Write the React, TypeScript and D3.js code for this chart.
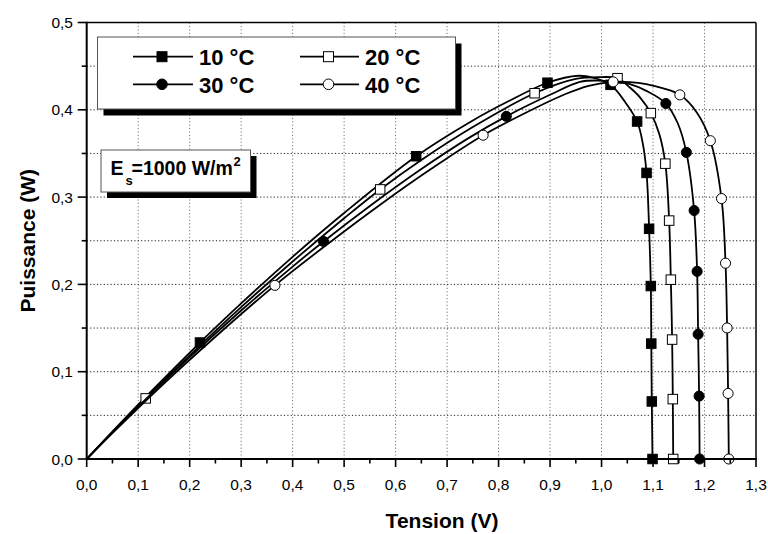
import React from 'react';
import * as d3 from 'd3';

// ---------- data ----------
const xTickValues = [0, 0.1, 0.2, 0.3, 0.4, 0.5, 0.6, 0.7, 0.8, 0.9, 1.0, 1.1, 1.2, 1.3];
const xTickLabels = ['0,0', '0,1', '0,2', '0,3', '0,4', '0,5', '0,6', '0,7', '0,8', '0,9', '1,0', '1,1', '1,2', '1,3'];
const yTickValues = [0, 0.1, 0.2, 0.3, 0.4, 0.5];
const yTickLabels = ['0,0', '0,1', '0,2', '0,3', '0,4', '0,5'];
const xMinorValues = [0.05, 0.15, 0.25, 0.35, 0.45, 0.55, 0.65, 0.75, 0.85, 0.95, 1.05, 1.15, 1.25];
const yMinorValues = [0.05, 0.15, 0.25, 0.35, 0.45];
const xGridValues = [0.1, 0.2, 0.3, 0.4, 0.5, 0.6, 0.7, 0.8, 0.9, 1.0, 1.1, 1.2];
const yGridValues = [0.05, 0.1, 0.15, 0.2, 0.25, 0.3, 0.35, 0.4, 0.45];

// 10 °C curve
const v10 = [0, 0.05, 0.1146, 0.22, 0.3, 0.4, 0.5, 0.64, 0.75, 0.82, 0.895, 0.955, 0.985, 1.0175, 1.045, 1.0691, 1.08, 1.0874, 1.0924, 1.0957, 1.0966, 1.0976, 1.099];
const p10 = [0, 0.0314, 0.0711, 0.1334, 0.1782, 0.2316, 0.2818, 0.3468, 0.3878, 0.41, 0.431, 0.439, 0.4365, 0.4286, 0.4096, 0.3866, 0.3618, 0.3277, 0.2637, 0.1981, 0.1322, 0.0659, 0];
const mv10 = [0.22, 0.64, 0.895, 1.0175, 1.0691, 1.0874, 1.0924, 1.0957, 1.0966, 1.0976, 1.099];
const mp10 = [0.1334, 0.3468, 0.431, 0.4286, 0.3866, 0.3277, 0.2637, 0.1981, 0.1322, 0.0659, 0];

// 20 °C curve
const v20 = [0, 0.05, 0.1146, 0.2, 0.3, 0.4, 0.5, 0.57, 0.65, 0.75, 0.87, 0.95, 1.0, 1.031, 1.055, 1.075, 1.0957, 1.112, 1.1239, 1.1313, 1.1346, 1.1371, 1.1384, 1.1392];
const p20 = [0, 0.0309, 0.0694, 0.1187, 0.1739, 0.2262, 0.2758, 0.3088, 0.3426, 0.3803, 0.419, 0.4355, 0.4375, 0.4362, 0.4255, 0.414, 0.3962, 0.3725, 0.3383, 0.2731, 0.2054, 0.1368, 0.0686, 0];
const mv20 = [0.1146, 0.57, 0.87, 1.031, 1.0957, 1.1239, 1.1313, 1.1346, 1.1371, 1.1384, 1.1392];
const mp20 = [0.0694, 0.3088, 0.419, 0.4362, 0.3962, 0.3383, 0.2731, 0.2054, 0.1368, 0.0686, 0];

// 30 °C curve
const v30 = [0, 0.05, 0.1, 0.2, 0.3, 0.4, 0.46, 0.55, 0.65, 0.74, 0.815, 0.9, 0.958, 0.995, 1.025, 1.055, 1.087, 1.1249, 1.148, 1.1647, 1.1798, 1.1856, 1.1876, 1.1895, 1.1905];
const p30 = [0, 0.0304, 0.0599, 0.1166, 0.1701, 0.2204, 0.2492, 0.2899, 0.3322, 0.367, 0.3925, 0.4172, 0.432, 0.4335, 0.432, 0.4294, 0.4217, 0.4072, 0.3846, 0.3512, 0.2846, 0.2149, 0.1429, 0.072, 0];
const mv30 = [0.46, 0.815, 1.1249, 1.1647, 1.1798, 1.1856, 1.1876, 1.1895, 1.1905];
const mp30 = [0.2492, 0.3925, 0.4072, 0.3512, 0.2846, 0.2149, 0.1429, 0.072, 0];

// 40 °C curve
const v40 = [0, 0.05, 0.15, 0.25, 0.3656, 0.47, 0.57, 0.67, 0.77, 0.85, 0.93, 0.975, 1.0225, 1.055, 1.087, 1.12, 1.1521, 1.185, 1.2113, 1.233, 1.2408, 1.2439, 1.2458, 1.2472];
const p40 = [0, 0.0296, 0.0864, 0.14, 0.1989, 0.2472, 0.2913, 0.3327, 0.3709, 0.3958, 0.4181, 0.4275, 0.432, 0.4318, 0.4294, 0.4245, 0.4171, 0.397, 0.3646, 0.2983, 0.2243, 0.1501, 0.0751, 0];
const mv40 = [0.3656, 0.77, 1.0225, 1.1521, 1.2113, 1.233, 1.2408, 1.2439, 1.2458, 1.2472];
const mp40 = [0.1989, 0.3709, 0.432, 0.4171, 0.3646, 0.2983, 0.2243, 0.1501, 0.0751, 0];

const seriesNames = ['10 °C', '20 °C', '30 °C', '40 °C'];
const seriesShapes = ['square', 'square', 'circle', 'circle'];
const seriesFills = ['#000', '#fff', '#000', '#fff'];

// ---------- layout ----------
const W = 768;
const H = 534;
const X0 = 86.7;
const X1 = 756;
const Y0 = 459;
const Y1 = 22.5;
const FONT = '"Liberation Sans", Arial, Helvetica, sans-serif';

const x = d3.scaleLinear().domain([0, 1.3]).range([X0, X1]);
const y = d3.scaleLinear().domain([0, 0.5]).range([Y0, Y1]);

const line = d3
  .line<[number, number]>()
  .x((d) => x(d[0]))
  .y((d) => y(d[1]))
  .curve(d3.curveCatmullRom.alpha(0.5));

function Marker({ cx, cy, shape, fill, size = 9.5 }: { cx: number; cy: number; shape: string; fill: string; size?: number }) {
  if (shape === 'square') {
    return <rect x={cx - size / 2} y={cy - size / 2} width={size} height={size} fill={fill} stroke="#000" strokeWidth={1} />;
  }
  return <circle cx={cx} cy={cy} r={size / 2 + 0.3} fill={fill} stroke="#000" strokeWidth={1} />;
}

export default function App() {
  const curves = [
    { v: v10, p: p10, mv: mv10, mp: mp10 },
    { v: v20, p: p20, mv: mv20, mp: mp20 },
    { v: v30, p: p30, mv: mv30, mp: mp30 },
    { v: v40, p: p40, mv: mv40, mp: mp40 },
  ];

  const legendPos = [
    { lx0: 133, lx1: 193, mx: 162, tx: 199, cy: 56.7, ty: 65 },
    { lx0: 300, lx1: 359, mx: 328.5, tx: 365, cy: 56.7, ty: 65 },
    { lx0: 133, lx1: 193, mx: 162, tx: 199, cy: 84.3, ty: 92.7 },
    { lx0: 300, lx1: 359, mx: 328.5, tx: 365, cy: 84.3, ty: 92.7 },
  ];

  return (
    <svg width={W} height={H} style={{ position: 'absolute', left: 0, top: 0, background: '#fff' }} fontFamily={FONT}>
      <rect x={0} y={0} width={W} height={H} fill="#fff" />

      {/* grid */}
      {xGridValues.map((v, i) => (
        <line key={'gx' + i} x1={x(v)} x2={x(v)} y1={Y0} y2={Y1} stroke="#777" strokeWidth={1} strokeDasharray="1.2,2.2" />
      ))}
      {yGridValues.map((v, i) => (
        <line key={'gy' + i} x1={X0} x2={X1} y1={y(v)} y2={y(v)} stroke="#222" strokeWidth={1} strokeDasharray="1.2,2.2" />
      ))}

      {/* legend box */}
      <rect x={103.5} y={43.5} width={358} height={72} fill="#000" />
      <rect x={97.5} y={37} width={358} height={72} fill="#fff" stroke="#555" strokeWidth={1} />
      {seriesNames.map((name, i) => {
        const lp = legendPos[i];
        return (
          <g key={'lg' + i}>
            <line x1={lp.lx0} x2={lp.lx1} y1={lp.cy} y2={lp.cy} stroke="#000" strokeWidth={1.8} />
            <Marker cx={lp.mx} cy={lp.cy} shape={seriesShapes[i]} fill={seriesFills[i]} size={10} />
            <text x={lp.tx} y={lp.ty} fontSize={22} fontWeight="bold" fill="#000">
              {name}
            </text>
          </g>
        );
      })}

      {/* irradiance box */}
      <rect x={107} y={156} width={149.5} height={42} fill="#000" />
      <rect x={101} y={150} width={149.5} height={42} fill="#fff" stroke="#555" strokeWidth={1} />
      <text x={110.5} y={175} fontSize={19.5} fontWeight="bold">E</text>
      <text x={125.5} y={184.5} fontSize={13} fontWeight="bold">s</text>
      <text x={131.5} y={175} fontSize={19.5} fontWeight="bold">=1000 W/m</text>
      <text x={233.5} y={166} fontSize={13} fontWeight="bold">2</text>

      {/* curves */}
      {curves.map((c, i) => {
        const pts: [number, number][] = c.v.map((v, j) => [v, c.p[j]]);
        return (
          <g key={'c' + i}>
            <path d={line(pts) || ''} fill="none" stroke="#000" strokeWidth={1.8} />
            {c.mv.map((v, j) => (
              <Marker key={j} cx={x(v)} cy={y(c.mp[j])} shape={seriesShapes[i]} fill={seriesFills[i]} />
            ))}
          </g>
        );
      })}

      {/* frame */}
      <line x1={X0} x2={X1} y1={Y1} y2={Y1} stroke="#000" strokeWidth={1.5} />
      <line x1={X1} x2={X1} y1={Y1} y2={Y0} stroke="#000" strokeWidth={1.5} />

      {/* axes */}
      <line x1={X0} x2={X1 + 0.75} y1={Y0} y2={Y0} stroke="#000" strokeWidth={2} />
      <line x1={X0} x2={X0} y1={Y0 + 1} y2={Y1 - 0.75} stroke="#000" strokeWidth={2} />

      {xTickValues.map((v, i) => (
        <g key={'xt' + i}>
          <line x1={x(v)} x2={x(v)} y1={Y0} y2={Y0 + 8} stroke="#000" strokeWidth={1.6} />
          <text x={x(v)} y={489.5} fontSize={15.5} textAnchor="middle" fill="#000">
            {xTickLabels[i]}
          </text>
        </g>
      ))}
      {xMinorValues.map((v, i) => (
        <line key={'xm' + i} x1={x(v)} x2={x(v)} y1={Y0} y2={Y0 + 4.5} stroke="#000" strokeWidth={1.6} />
      ))}
      {yTickValues.map((v, i) => (
        <g key={'yt' + i}>
          <line x1={X0 - 9} x2={X0} y1={y(v)} y2={y(v)} stroke="#000" strokeWidth={1.6} />
          <text x={73} y={y(v) + 5.5} fontSize={15.5} textAnchor="end" fill="#000">
            {yTickLabels[i]}
          </text>
        </g>
      ))}
      {yMinorValues.map((v, i) => (
        <line key={'ym' + i} x1={X0 - 5} x2={X0} y1={y(v)} y2={y(v)} stroke="#000" strokeWidth={1.6} />
      ))}

      {/* axis titles */}
      <text x={442} y={528} fontSize={21} fontWeight="bold" textAnchor="middle">
        Tension (V)
      </text>
      <text transform={`translate(35,${(Y0 + Y1) / 2}) rotate(-90)`} fontSize={21} fontWeight="bold" textAnchor="middle">
        Puissance (W)
      </text>
    </svg>
  );
}
